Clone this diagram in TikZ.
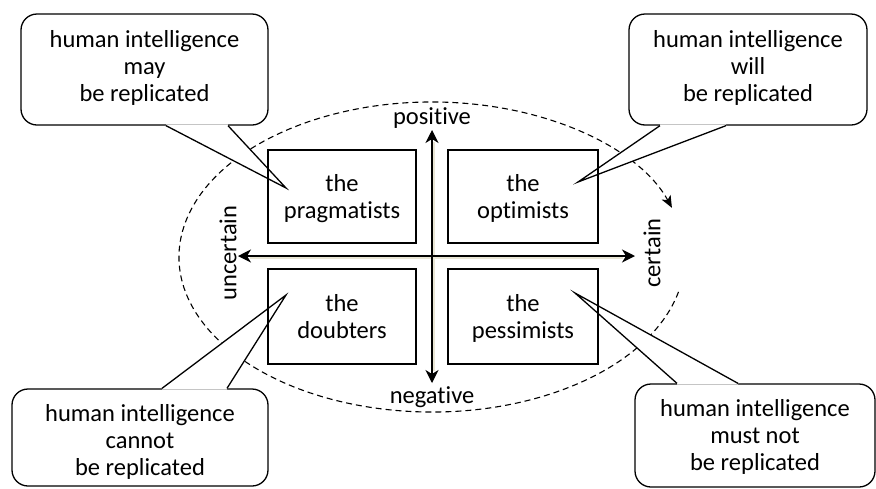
\documentclass[tikz,border=0pt]{standalone}
\usepackage{fontspec}
\setmainfont{Carlito}[Ligatures=NoCommon]
\usetikzlibrary{arrows.meta,calc}
\definecolor{shadowc}{RGB}{232,229,212}
\newcommand\ctext[2]{\raisebox{\dimexpr#1-6.1pt\relax}[0pt][0pt]{\begin{tabular}{@{}c@{}}#2\end{tabular}}}
\tikzset{
  txt/.style={font=\fontsize{24.5}{27}\selectfont},
  callout/.style={draw, line width=1.3pt, fill=white, rounded corners=16pt,
    inner sep=0pt, txt},
  quad/.style={draw, line width=1.3pt, inner sep=0pt, txt},
  axislbl/.style={inner sep=0pt, txt},
  axisarrow/.style={line width=1.3pt, {Stealth[length=13pt,width=13pt,inset=4pt]}-{Stealth[length=13pt,width=13pt,inset=4pt]}},
  ptr/.style={line width=1.3pt, line join=miter},
}
\begin{document}
\begin{tikzpicture}[x=1pt,y=1pt]
\useasboundingbox (0,0) rectangle (876,-488);
% ellipse
\coordinate (E) at (432,-257);
\draw[line width=1.1pt, dash pattern=on 6pt off 4pt, -{Stealth[length=12pt,width=10pt,inset=3pt]}]
  ($(E)+(-13:253 and 155)$) arc[start angle=-13, end angle=-341.5, x radius=253, y radius=155];
% callouts
\node[callout, minimum width=247pt, minimum height=111pt] (cTL) at (144.5,-69.5)
  {\ctext{0pt}{human intelligence\\may\\be replicated}};
\node[callout, minimum width=238pt, minimum height=111pt] (cTR) at (748,-69.5)
  {\ctext{0pt}{human intelligence\\will\\be replicated}};
\node[callout, minimum width=256pt, minimum height=97pt] (cBL) at (140,-437.5)
  {\ctext{-6pt}{human intelligence\\cannot\\be replicated}};
\node[callout, minimum width=240pt, minimum height=103pt] (cBR) at (755,-435.5)
  {\ctext{-3pt}{human intelligence\\must not\\be replicated}};
% pointer tips
\coordinate (tTL) at (286,-188);
\coordinate (tTR) at (578,-182);
\coordinate (tBL) at (286,-295);
\coordinate (tBR) at (575,-293);
% pointers
\foreach \n/\t/\a/\b in {cTL/tTL/21.5/83.5, cTR/tTR/-88/-22}{
  \fill[white] ($(\n.south)+(\a,1.2)$) -- ($(\n.south)+(\a,0)$) -- (\t) -- ($(\n.south)+(\b,0)$) -- ($(\n.south)+(\b,1.2)$) -- cycle;
  \draw[ptr] ($(\n.south)+(\a,0)$) -- (\t) -- ($(\n.south)+(\b,0)$);
}
\foreach \n/\t/\a/\b in {cBL/tBL/22/87, cBR/tBR/-78/-17}{
  \fill[white] ($(\n.north)+(\a,-1.2)$) -- ($(\n.north)+(\a,0)$) -- (\t) -- ($(\n.north)+(\b,0)$) -- ($(\n.north)+(\b,-1.2)$) -- cycle;
  \draw[ptr] ($(\n.north)+(\a,0)$) -- (\t) -- ($(\n.north)+(\b,0)$);
}
% quadrant boxes
\node[quad, minimum width=148pt, minimum height=93pt] (prag) at (342,-196.5) {\ctext{-3pt}{the\\pragmatists}};
\node[quad, minimum width=150pt, minimum height=93pt] (opt) at (523,-196.5) {\ctext{-3pt}{the\\optimists}};
\node[quad, minimum width=148pt, minimum height=95pt] (doub) at (342,-316.5) {\ctext{-3pt}{the\\doubters}};
\node[quad, minimum width=150pt, minimum height=95pt] (pess) at (523,-316.5) {\ctext{-3pt}{the\\pessimists}};
% axes
\coordinate (hL) at (238,-256);
\coordinate (hR) at (635,-256);
\coordinate (vT) at (432,-130);
\coordinate (vB) at (432,-383);
\draw[shadowc, line width=1.6pt] ($(hL)+(12,-1.8)$) -- ($(hR)+(-12,-1.8)$);
\draw[shadowc, line width=1.6pt] ($(vT)+(1.8,-12)$) -- ($(vB)+(1.8,12)$);
\draw[axisarrow] (hL) -- (hR);
\draw[axisarrow] (vT) -- (vB);
% axis labels
\node[axislbl] (pos) at (432,-118) {positive};
\node[axislbl] (neg) at (432,-397) {negative};
\node[axislbl, rotate=90] (unc) at (228,-253) {uncertain};
\node[axislbl, rotate=90] (cer) at (652,-253) {certain};
\end{tikzpicture}
\end{document}
